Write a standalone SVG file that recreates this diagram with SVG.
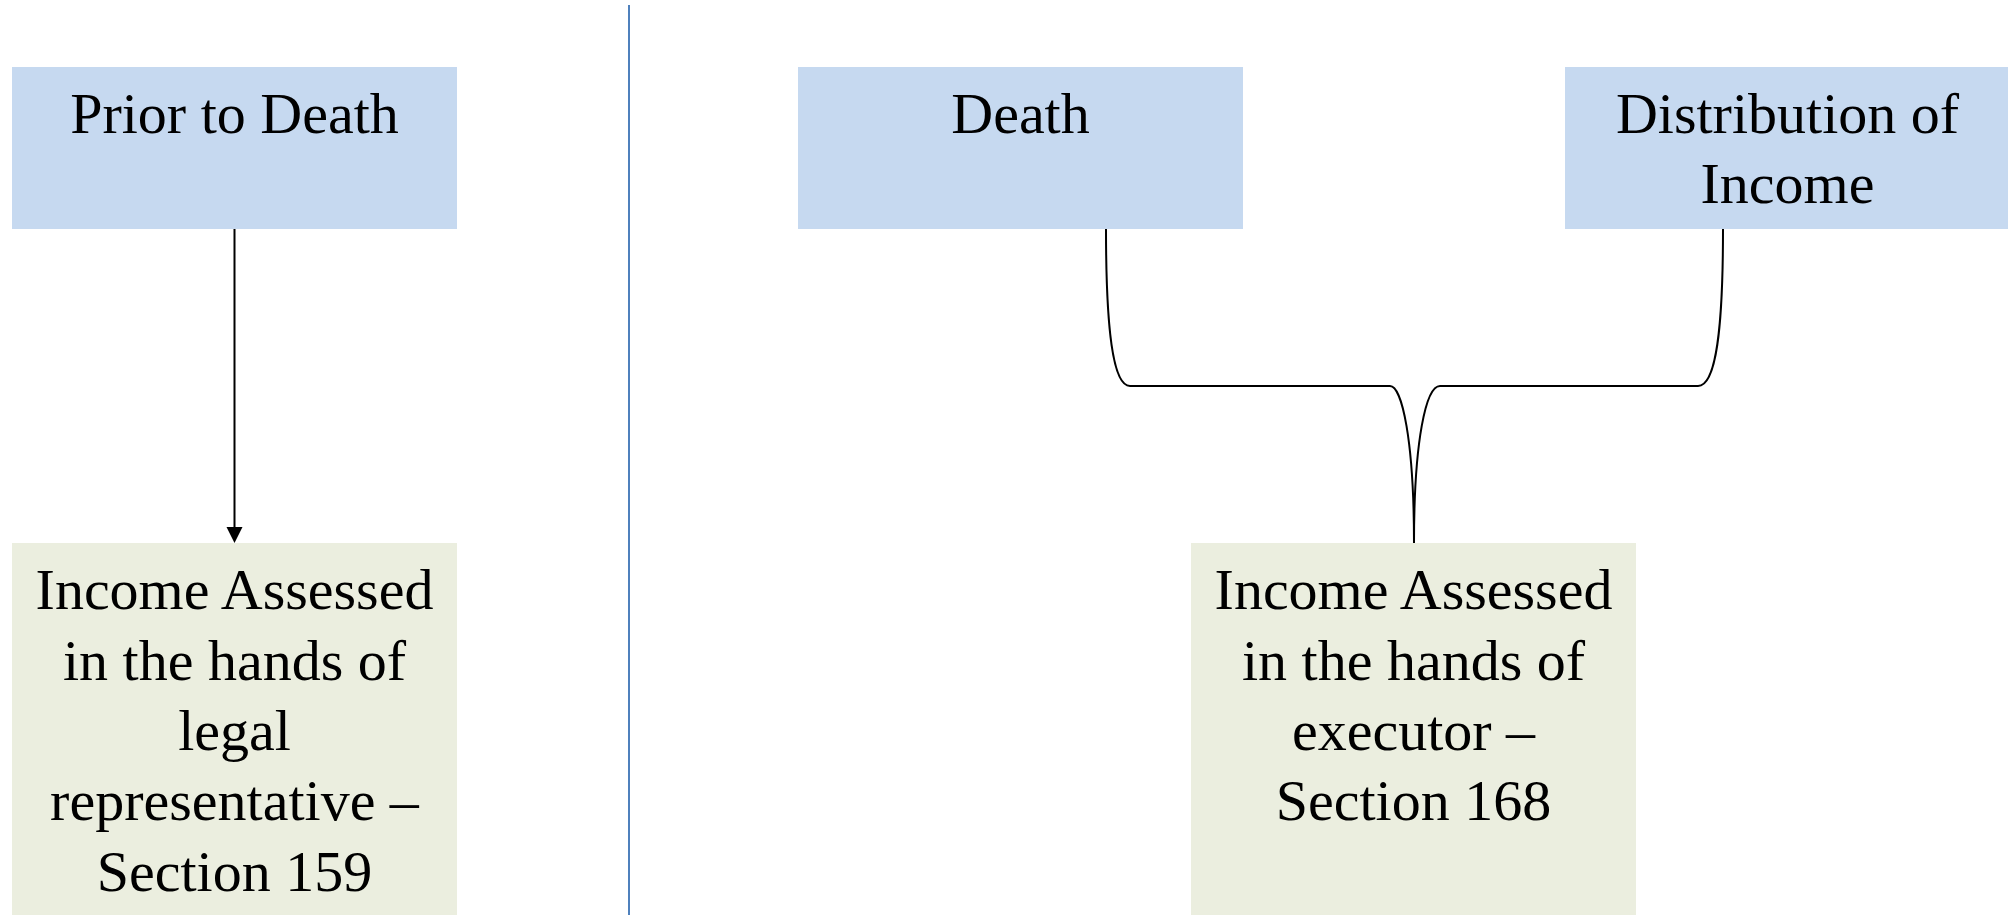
<svg xmlns="http://www.w3.org/2000/svg" width="2008" height="915" viewBox="0 0 2008 915">
<style>
.top{fill:#C6D9F0}
.bot{fill:#EBEEDF}
.t{font-family:"Liberation Serif","Times New Roman",serif;font-size:58px;fill:#000;text-anchor:middle}
.c{fill:none;stroke:#000;stroke-width:2}
</style>
<rect width="2008" height="915" fill="#fff"/>
<line x1="629" y1="5" x2="629" y2="915" stroke="#4F81BD" stroke-width="2"/>
<g id="connectors">
<line class="c" x1="234.5" y1="229" x2="234.5" y2="528"/>
<path d="M226.5,527 L242.5,527 L234.5,543 Z" fill="#000"/>
<path class="c" d="M1106,229 C1106,330 1113,386 1130,386 L1390,386 C1402,386 1414,440 1414,543"/>
<path class="c" d="M1723,229 C1723,330 1716,386 1698,386 L1440,386 C1426,386 1414,440 1414,543"/>
</g>
<g id="prior">
<rect class="top" x="12" y="67" width="445" height="162"/>
<text class="t" x="234.5" y="133">Prior to Death</text>
</g>
<g id="death">
<rect class="top" x="798" y="67" width="445" height="162"/>
<text class="t" x="1020.5" y="133">Death</text>
</g>
<g id="distribution">
<rect class="top" x="1565" y="67" width="445" height="162"/>
<text class="t" x="1787.5" y="133">Distribution of</text>
<text class="t" x="1787.5" y="203">Income</text>
</g>
<g id="legalrep">
<rect class="bot" x="12" y="543" width="445" height="372"/>
<text class="t" x="234.5" y="609">Income Assessed</text>
<text class="t" x="234.5" y="680">in the hands of</text>
<text class="t" x="234.5" y="750">legal</text>
<text class="t" x="234.5" y="820">representative –</text>
<text class="t" x="234.5" y="891">Section 159</text>
</g>
<g id="executor">
<rect class="bot" x="1191" y="543" width="445" height="372"/>
<text class="t" x="1413.5" y="609">Income Assessed</text>
<text class="t" x="1413.5" y="680">in the hands of</text>
<text class="t" x="1413.5" y="750">executor –</text>
<text class="t" x="1413.5" y="820">Section 168</text>
</g>
</svg>
